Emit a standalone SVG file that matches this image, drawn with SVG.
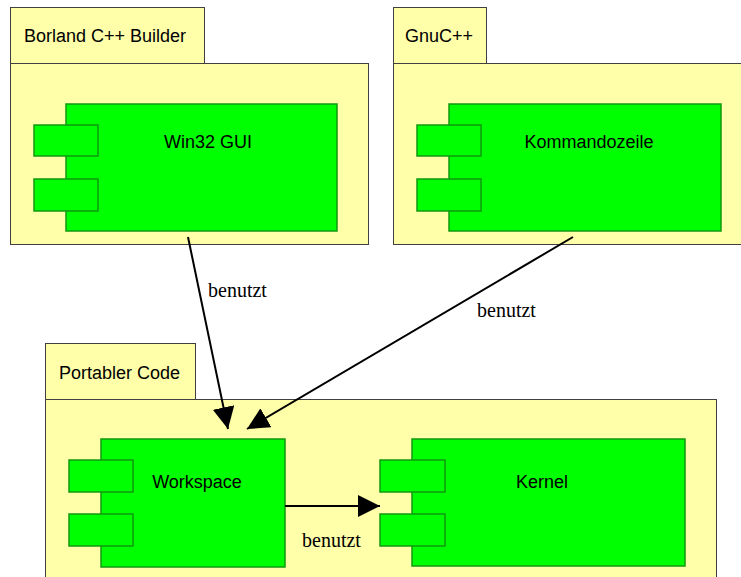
<svg xmlns="http://www.w3.org/2000/svg" width="741" height="577" viewBox="0 0 741 577">
<style>
.pkg{fill:#ffffaa;stroke:#404040;stroke-width:1}
.cmp{fill:#00ff00;stroke:#119911;stroke-width:1.5}
.lbl{font-family:"Liberation Sans",Arial,sans-serif;font-size:18px;fill:#000}
.edge{stroke:#000;stroke-width:2;fill:none;marker-end:url(#arr)}
.elbl{font-family:"Liberation Serif","Times New Roman",serif;font-size:20px;fill:#000}
</style>
<defs>
<marker id="arr" markerUnits="userSpaceOnUse" markerWidth="22" markerHeight="22" viewBox="0 0 20 20" refX="20" refY="10" orient="auto">
<path d="M0,0 L20,10 L0,20 Z" fill="#000"/>
</marker>
</defs>
<rect width="741" height="577" fill="#fff"/>
<g id="pkg-borland">
<rect class="pkg" x="10.5" y="63.5" width="358" height="181"/>
<rect class="pkg" x="10.5" y="7.5" width="194" height="56"/>
<text class="lbl" x="24" y="42">Borland C++ Builder</text>
</g>
<g id="pkg-gnu">
<rect class="pkg" x="393.5" y="63.5" width="360" height="181"/>
<rect class="pkg" x="393.5" y="7.5" width="93" height="56"/>
<text class="lbl" x="405" y="42">GnuC++</text>
</g>
<g id="pkg-portabel">
<rect class="pkg" x="45.5" y="399.5" width="671" height="190"/>
<rect class="pkg" x="45.5" y="343.5" width="150" height="56"/>
<text class="lbl" x="59" y="379">Portabler Code</text>
</g>
<g id="win32gui">
<rect class="cmp" x="66" y="104" width="271" height="127"/>
<rect class="cmp" x="34" y="125" width="64" height="31"/>
<rect class="cmp" x="34" y="179" width="64" height="32"/>
<text class="lbl" x="208" y="148" text-anchor="middle">Win32 GUI</text>
</g>
<g id="kommandozeile">
<rect class="cmp" x="449" y="104" width="272" height="127"/>
<rect class="cmp" x="417" y="125" width="64" height="31"/>
<rect class="cmp" x="417" y="179" width="64" height="32"/>
<text class="lbl" x="589" y="148" text-anchor="middle">Kommandozeile</text>
</g>
<g id="workspace">
<rect class="cmp" x="101" y="439" width="184" height="128"/>
<rect class="cmp" x="69" y="460" width="64" height="32"/>
<rect class="cmp" x="69" y="514" width="64" height="32"/>
<text class="lbl" x="197" y="488" text-anchor="middle">Workspace</text>
</g>
<g id="kernel">
<rect class="cmp" x="412" y="439" width="273" height="127"/>
<rect class="cmp" x="380" y="460" width="65" height="32"/>
<rect class="cmp" x="380" y="514" width="65" height="32"/>
<text class="lbl" x="542" y="488" text-anchor="middle">Kernel</text>
</g>
<g id="connectors">
<line class="edge" x1="188" y1="237" x2="228" y2="429"/>
<line class="edge" x1="573" y1="237" x2="247" y2="429"/>
<line class="edge" x1="285" y1="506" x2="380" y2="506"/>
<text class="elbl" x="208" y="297">benutzt</text>
<text class="elbl" x="477" y="317">benutzt</text>
<text class="elbl" x="302" y="547">benutzt</text>
</g>
</svg>
